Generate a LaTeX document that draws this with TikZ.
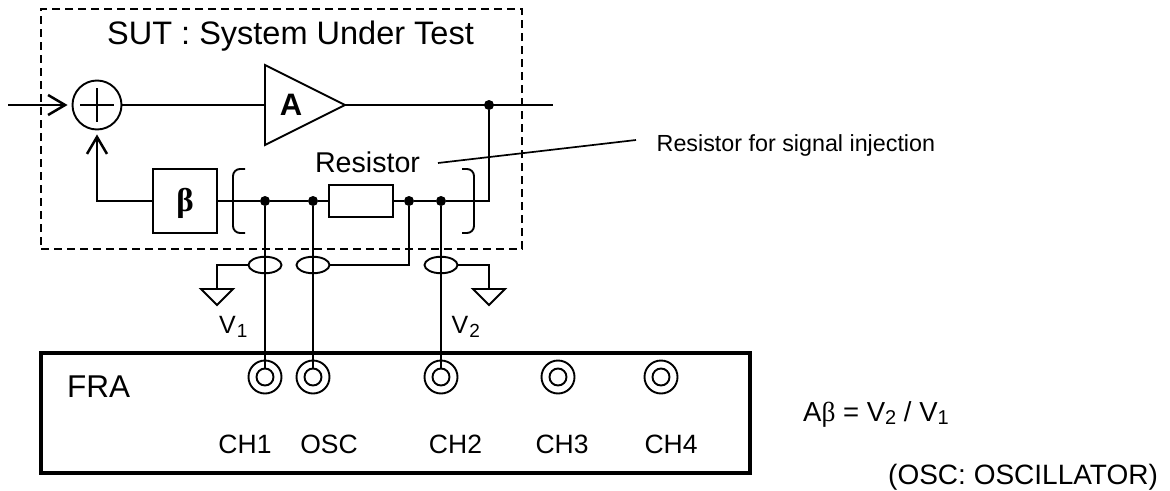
\documentclass[tikz,border=0pt]{standalone}
\usepackage{fontspec}
\setmainfont{Liberation Sans}
\newfontfamily\symfont{Liberation Serif}
\usetikzlibrary{arrows.meta,shapes.geometric}
\newcommand{\fs}[1]{\fontsize{#1}{#1}\selectfont}
\tikzset{
  x=1pt,y=-1pt,
  wire/.style={line width=1.9pt},
  thick wire/.style={line width=2.9pt},
  openarrow/.style={-{Straight Barb[length=17pt,width=20pt,line width=2.5pt]},shorten >=4pt},
  dot/.style={circle,fill=black,inner sep=0pt,minimum size=10pt},
  elem/.style={draw,line width=1.9pt,fill=white,inner sep=0pt},
  probe/.style={ellipse,draw,line width=1.9pt,inner sep=0pt,minimum width=33pt,minimum height=16.5pt},
  jackouter/.style={circle,draw,line width=1.9pt,inner sep=0pt,minimum size=33pt},
  jackinner/.style={circle,draw,line width=1.9pt,inner sep=0pt,minimum size=17pt},
  lab/.style={inner sep=0pt,anchor=base,font=\fs{26.5}},
  bracket/.style={line width=1.9pt,rounded corners=7pt},
  gnd/.style={draw,line width=1.9pt,line join=miter},
}
\begin{document}
\begin{tikzpicture}
\useasboundingbox (0,0) rectangle (1170,490);
% SUT frame
\node[draw,dashed,dash pattern=on 8pt off 5pt,line width=1.6pt,minimum width=481pt,minimum height=240pt,inner sep=0pt] (sut) at (281.5,129) {};
\node[lab,font=\fs{32.5}] (suttitle) at (290.5,44.5) {SUT : System Under Test};
% blocks
\node[circle,draw,line width=1.9pt,minimum size=49pt,inner sep=0pt] (sum) at (97,105) {};
\draw[line width=1.6pt] (sum.center) ++(-17,0) -- ++(34,0) (sum.center) ++(0,-17) -- ++(0,34);
\coordinate (a1) at (265,65); \coordinate (a2) at (265,145); \coordinate (a3) at (345,105);
\draw[elem] (a1) -- (a2) -- (a3) -- cycle;
\node[lab,font=\fs{31}\bfseries] (A) at (291,115) {A};
\node[elem,minimum size=64pt] (beta) at (185,201) {};
\node[lab,font=\fs{33}\symfont\bfseries] (betat) at (185,211) {β};
\node[elem,minimum width=64pt,minimum height=32pt] (res) at (361,201) {};
\node[lab,font=\fs{28.6}] (restxt) at (367.5,172) {Resistor};
% nets
\coordinate (inp) at (8,105);
\coordinate (outend) at (553,105);
\node[dot] (dout) at (489,105) {};
\node[dot] (d1) at (265,201) {};
\node[dot] (d2) at (313,201) {};
\node[dot] (d3) at (409,201) {};
\node[dot] (d4) at (441,201) {};
\coordinate (corner) at (489,201);
\coordinate (fbc) at (97,201);
\draw[thick wire,openarrow] (inp) -- (sum.west);
\draw[wire] (sum.east) -- (a1 |- sum.east);
\draw[wire] (a3) -- (outend);
\draw[wire] (dout) -- (corner) -- (d4) -- (d3) -- (res.east);
\draw[wire] (res.west) -- (d2) -- (d1) -- (beta.east);
\draw[thick wire,openarrow] (beta.west) -- (fbc) -- (sum.south);
% brackets
\draw[bracket] (245,169) -- (233,169) -- (233,233) -- (245,233);
\draw[bracket] (462,169) -- (474,169) -- (474,233) -- (462,233);
% FRA
\node[draw,line width=3.6pt,minimum width=709pt,minimum height=120pt,inner sep=0pt] (fra) at (395.5,413) {};
\node[lab,anchor=base west,font=\fs{31.5}] (fratxt) at (67,397) {FRA};
\foreach \n/\x in {j1/265,j2/313,j3/441,j4/558,j5/661}{
  \node[jackouter] (\n o) at (\x,377) {};
  \node[jackinner] (\n) at (\x,377) {};
}
\node[lab] at (245,453) {CH1};
\node[lab] at (329,453) {OSC};
\node[lab] at (455.5,453) {CH2};
\node[lab] at (562,453) {CH3};
\node[lab] at (671,453) {CH4};
% probes
\draw[wire] (d1) -- (j1.north);
\draw[wire] (d2) -- (j2.north);
\draw[wire] (d4) -- (j3.north);
\node[probe] (p1) at (265,265) {};
\node[probe] (p2) at (313,265) {};
\node[probe] (p3) at (441,265) {};
\coordinate (g1) at (217,289);
\coordinate (g2) at (489,289);
\draw[wire] (p1.west) -| (g1);
\draw[wire] (p3.east) -| (g2);
\draw[wire] (p2.east) -| (d3);
\draw[gnd] (201,289) -- (233,289) -- (217,305) -- cycle;
\draw[gnd] (473,289) -- (505,289) -- (489,305) -- cycle;
\node[lab,anchor=base west,font=\fs{25}] (v1) at (219,333) {V\raisebox{-4pt}{\kern1pt\fs{19}1}};
\node[lab,anchor=base west,font=\fs{25}] (v2) at (451.5,333) {V\raisebox{-4pt}{\kern1pt\fs{19}2}};
% annotation
\node[lab,anchor=base west,font=\fs{23.3}] (ann) at (656.5,151) {Resistor for signal injection};
\coordinate (l1) at (438,163);
\coordinate (l2) at (636,140);
\draw[line width=1.7pt] (l1) -- (l2);
\node[lab,anchor=base west,font=\fs{27.5}] (eq) at (803,421) {A{\symfont β} = V\raisebox{-3.5pt}{\fs{20}2} / V\raisebox{-3.5pt}{\fs{20}1}};
\node[lab,anchor=base west,font=\fs{28}] (osc) at (888,484.5) {(OSC: OSCILLATOR)};
\end{tikzpicture}
\end{document}
